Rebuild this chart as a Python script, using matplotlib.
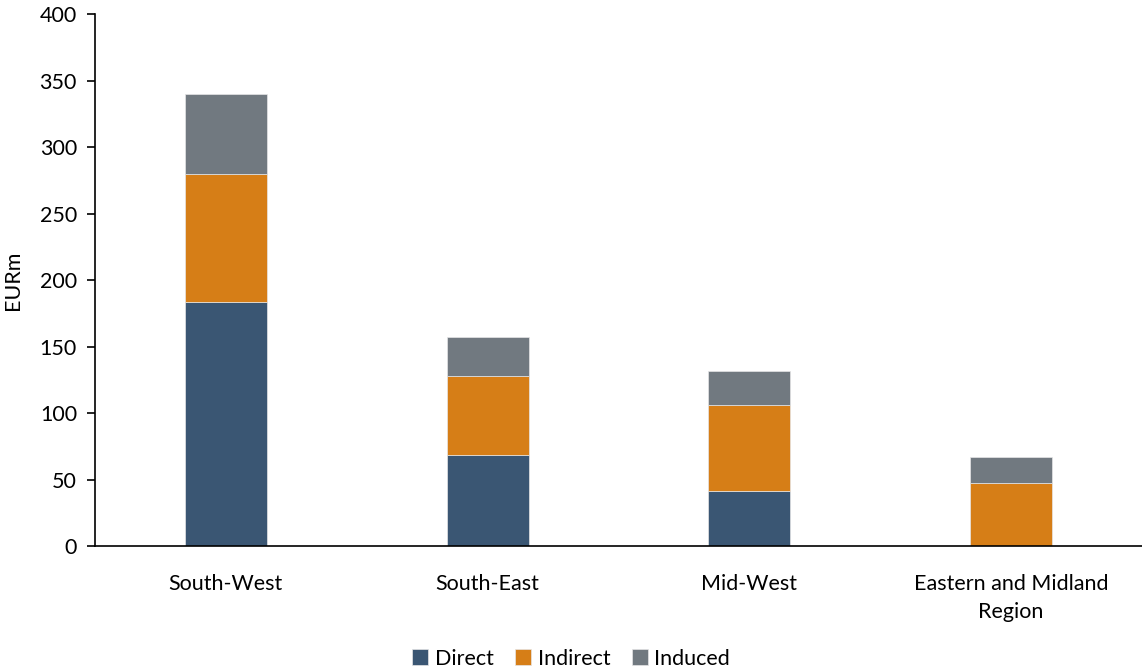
import matplotlib.pyplot as plt
import numpy as np

regions = ["South-West", "South-East", "Mid-West", "Eastern and Midland\nRegion"]
direct = [183.5, 68.5, 41.5, 0.0]
indirect = [96.0, 59.5, 64.5, 47.5]
induced = [60.5, 29.5, 25.5, 19.5]

colors = {"Direct": "#3a5673", "Indirect": "#d67e17", "Induced": "#717980"}

plt.rcParams["font.family"] = ["Lato", "DejaVu Sans"]

fig = plt.figure(figsize=(11.42, 6.72), dpi=100)
ax = fig.add_axes([0.0832, 0.1875, 0.9168, 0.7915])

x = np.arange(len(regions))
width = 0.313
bottom = np.zeros(len(regions))
for name, vals in [("Direct", direct), ("Indirect", indirect), ("Induced", induced)]:
    vals = np.array(vals)
    ax.bar(x, vals, width, bottom=bottom, color=colors[name], label=name,
           edgecolor="#e6e6e6", linewidth=0.5)
    bottom += vals

ax.set_xlim(-0.5, 3.5)
ax.set_ylim(0, 400)
ax.set_yticks(np.arange(0, 401, 50))
ax.set_xticks(x)
ax.set_xticklabels(regions, fontsize=15.5, linespacing=1.5)
ax.tick_params(axis="y", labelsize=15.5, length=6, width=1.2, direction="out", pad=7)
ax.tick_params(axis="x", length=0, pad=20)
ax.set_ylabel("EURm", fontsize=15.5, labelpad=12)

for side in ["top", "right"]:
    ax.spines[side].set_visible(False)
ax.spines["left"].set_linewidth(1.2)
ax.spines["bottom"].set_linewidth(1.2)

fig.legend(loc="center", bbox_to_anchor=(0.5, 0.02),
           ncol=3, frameon=False, fontsize=15.5, handlelength=0.75, handleheight=0.75,
           handletextpad=0.3, columnspacing=1.0)

fig.savefig("out.png", dpi=100)
